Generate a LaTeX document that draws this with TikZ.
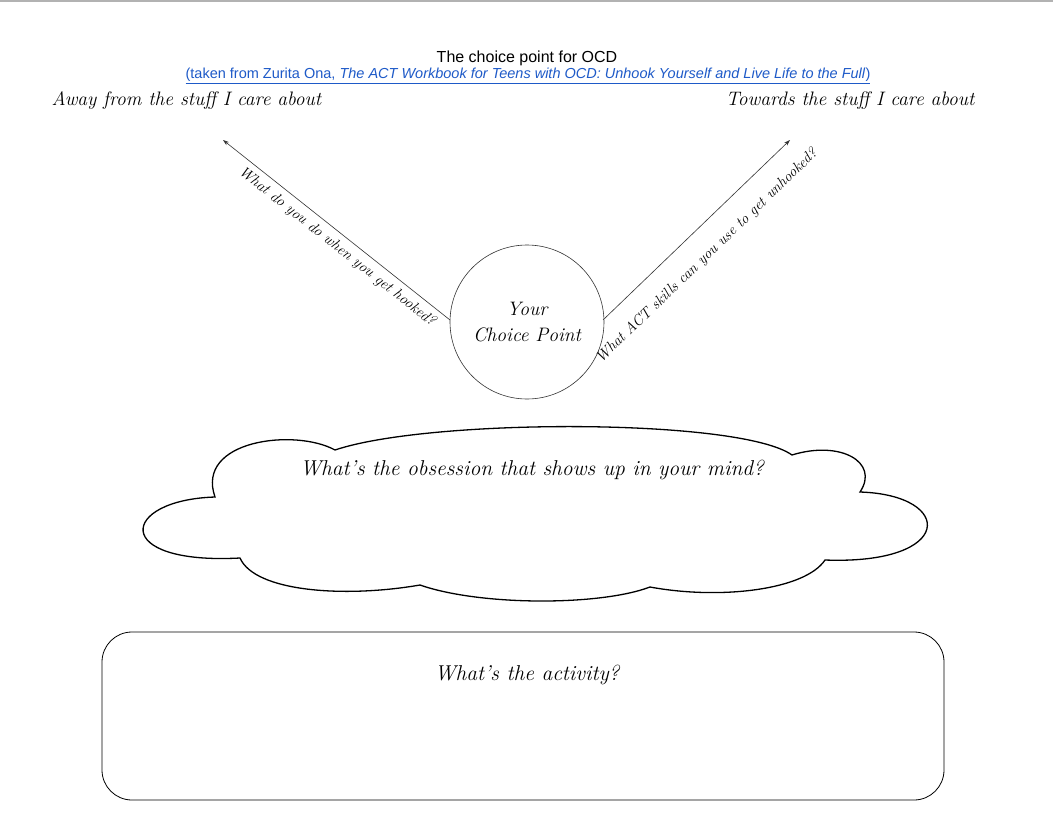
\documentclass[tikz,border=0pt]{standalone}
\usepackage{fontspec}
\newfontfamily\sans{Liberation Sans}
\usetikzlibrary{arrows.meta}
\definecolor{linkblue}{RGB}{30,90,200}
\begin{document}
\begin{tikzpicture}[x=1pt,y=-1pt,
  hand/.style={font=\itshape\fontsize{19.5}{22}\selectfont},
  handbig/.style={font=\itshape\fontsize{21.5}{24}\selectfont},
  handsm/.style={font=\itshape\fontsize{15}{17}\selectfont,inner sep=0pt},
  line/.style={draw=black!80,line width=0.6pt},
  arr/.style={line,-{Stealth[length=6pt,width=4pt]}}]
\useasboundingbox (0,0) rectangle (1053,817);
\fill[white] (0,0) rectangle (1053,817);
\draw[black!30,line width=1.5pt] (0,1) -- (1053,1);
\node[font=\sans\fontsize{16}{18}\selectfont] (title) at (527,58) {The choice point for OCD};
\node[font=\sans\fontsize{14.5}{16}\selectfont,text=linkblue] (src) at (528,76)
  {\underline{(taken from Zurita Ona, \textit{The ACT Workbook for Teens with OCD: Unhook Yourself and Live Life to the Full})}};
\node[hand,anchor=west] (away) at (48,101) {Away from the stuff I care about};
\node[hand,anchor=east] (tow) at (978,101) {Towards the stuff I care about};
\node[circle,line,minimum size=154pt,inner sep=0pt,align=center,hand] (cp) at (527,322) {Your\\[4pt]Choice Point};
\coordinate (lstart) at (450,320);
\coordinate (lend) at (223,140);
\coordinate (rstart) at (603,320);
\coordinate (rend) at (790,140);
\draw[arr] (lstart) -- (lend);
\draw[arr] (rstart) -- (rend);
\node[handsm,rotate=-38.4] (lq) at (337,247) {What do you do when you get hooked?};
\node[handsm,rotate=43.9] (rq) at (707,256) {What ACT skills can you use to get unhooked?};
\draw[line,line width=1.3pt,black] (215,497) .. controls (120,500) and (110,565) .. (240,558)
  .. controls (255,592) and (345,598) .. (420,585)
  .. controls (480,606) and (600,606) .. (650,587)
  .. controls (720,600) and (805,590) .. (825,560)
  .. controls (955,565) and (955,495) .. (860,492)
  .. controls (880,462) and (840,440) .. (792,455)
  .. controls (740,418) and (430,418) .. (335,450)
  .. controls (295,428) and (195,440) .. (215,497) -- cycle;
\node[handbig] (obs) at (532,470) {What's the obsession that shows up in your mind?};
\node[draw=black,line width=0.8pt,rounded corners=30pt,minimum width=842pt,minimum height=168pt] (box) at (523,716) {};
\node[handbig] (act) at (527,675) {What's the activity?};
\end{tikzpicture}
\end{document}
